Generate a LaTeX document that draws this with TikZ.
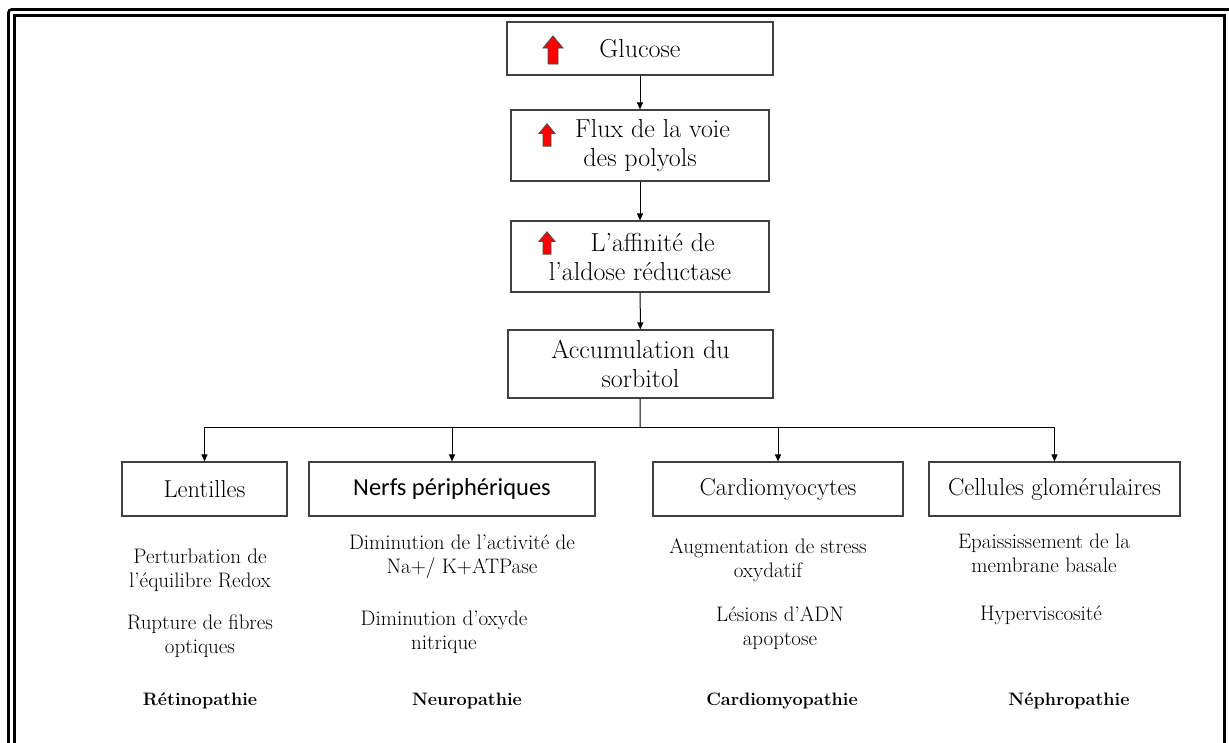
\documentclass[tikz,border=0pt]{standalone}
\usepackage{fontspec}
\newfontfamily\calfont{Carlito}
\usetikzlibrary{arrows.meta}

% red up arrow drawn at a point, #2 = scale
\newcommand{\redup}[2]{\draw[fill=red, draw=black!70, line width=0.8pt, shift={(#1)}, scale=#2]
	(0,-14) -- (10,-2) -- (5,-2) -- (5,14) -- (-5,14) -- (-5,-2) -- (-10,-2) -- cycle;}

\tikzset{
	stage/.style={draw=black!75, line width=1.2pt, align=center, inner sep=0pt, font=\fontsize{26}{29}\selectfont},
	organ/.style={draw=black!75, line width=1.2pt, align=center, inner sep=0pt, minimum height=54pt, font=\fontsize{24.5}{27}\selectfont},
	effect/.style={align=center, inner sep=0pt, font=\fontsize{21}{24}\selectfont},
	disease/.style={inner sep=0pt, font=\fontsize{18}{22}\selectfont\bfseries},
	flow/.style={-{Triangle[length=7pt,width=6pt]}, line width=1pt},
}

\begin{document}
\begin{tikzpicture}[x=1pt, y=-1pt]
	\useasboundingbox (0,0) rectangle (1229,742);
	
	% double frame, cut at the bottom
	\draw[line width=2.6pt, rounded corners=3pt] (8.5,760) -- (8.5,9.5) -- (1236,9.5);
	\draw[line width=2.6pt] (14.5,760) -- (14.5,15.5) -- (1224.5,15.5) -- (1224.5,760);
	
	% main chain
	\node[stage, minimum width=266pt, minimum height=53pt] (glu) at (640,48.5) {Glucose};
	\node[stage, minimum width=258pt, minimum height=71pt] (flux) at (640,145.5) {\hphantom{xx}Flux de la voie\\des polyols};
	\node[stage, minimum width=258pt, minimum height=71pt] (aff) at (640,256.5) {\hphantom{xx}L’affinité de\\l’aldose réductase};
	\node[stage, minimum width=265pt, minimum height=68pt] (acc) at (640.5,364) {Accumulation du\\sorbitol};
	
	\redup{553,50}{1}
	\redup{547,135}{0.8}
	\redup{547,243}{0.8}
	
	\draw[flow] (glu) -- (flux);
	\draw[flow] (flux) -- (aff);
	\draw[flow] (aff) -- (acc);
	
	% organs
	\node[organ, minimum width=165pt] (len) at (204.5,489) {Lentilles};
	\node[organ, minimum width=286pt, font=\fontsize{24.5}{27}\calfont] (ner) at (452,489) {Nerfs périphériques};
	\node[organ, minimum width=250pt] (car) at (778,489) {Cardiomyocytes};
	\node[organ, minimum width=251pt] (cel) at (1054.5,489) {Cellules glomérulaires};
	
	\coordinate (split) at (640,427);
	\draw[line width=1pt] (acc) -- (split);
	\draw[line width=1pt] (split -| len) -- (split -| cel);
	\foreach \n in {len,ner,car,cel}
		\draw[flow] (split -| \n) -- (\n);
	
	% effects
	\node[effect] (len1) at (200,570) {Perturbation de\\l’équilibre Redox};
	\node[effect] (len2) at (200,636) {Rupture de fibres\\optiques};
	\node[effect] (ner1) at (462,557) {Diminution de l’activité de\\Na+/ K+ATPase};
	\node[effect] (ner2) at (444,632) {Diminution d’oxyde\\nitrique};
	\node[effect] (car1) at (768,560) {Augmentation de stress\\oxydatif};
	\node[effect] (car2) at (780,628) {Lésions d’ADN\\apoptose};
	\node[effect] (cel1) at (1044,553) {Epaississement de la\\membrane basale};
	\node[effect] (cel2) at (1041,615) {Hyperviscosité};
	
	\node[disease] (ret) at (200,701) {Rétinopathie};
	\node[disease] (neu) at (467,701) {Neuropathie};
	\node[disease] (cmp) at (782,701) {Cardiomyopathie};
	\node[disease] (nep) at (1069,701) {Néphropathie};
\end{tikzpicture}
\end{document}
